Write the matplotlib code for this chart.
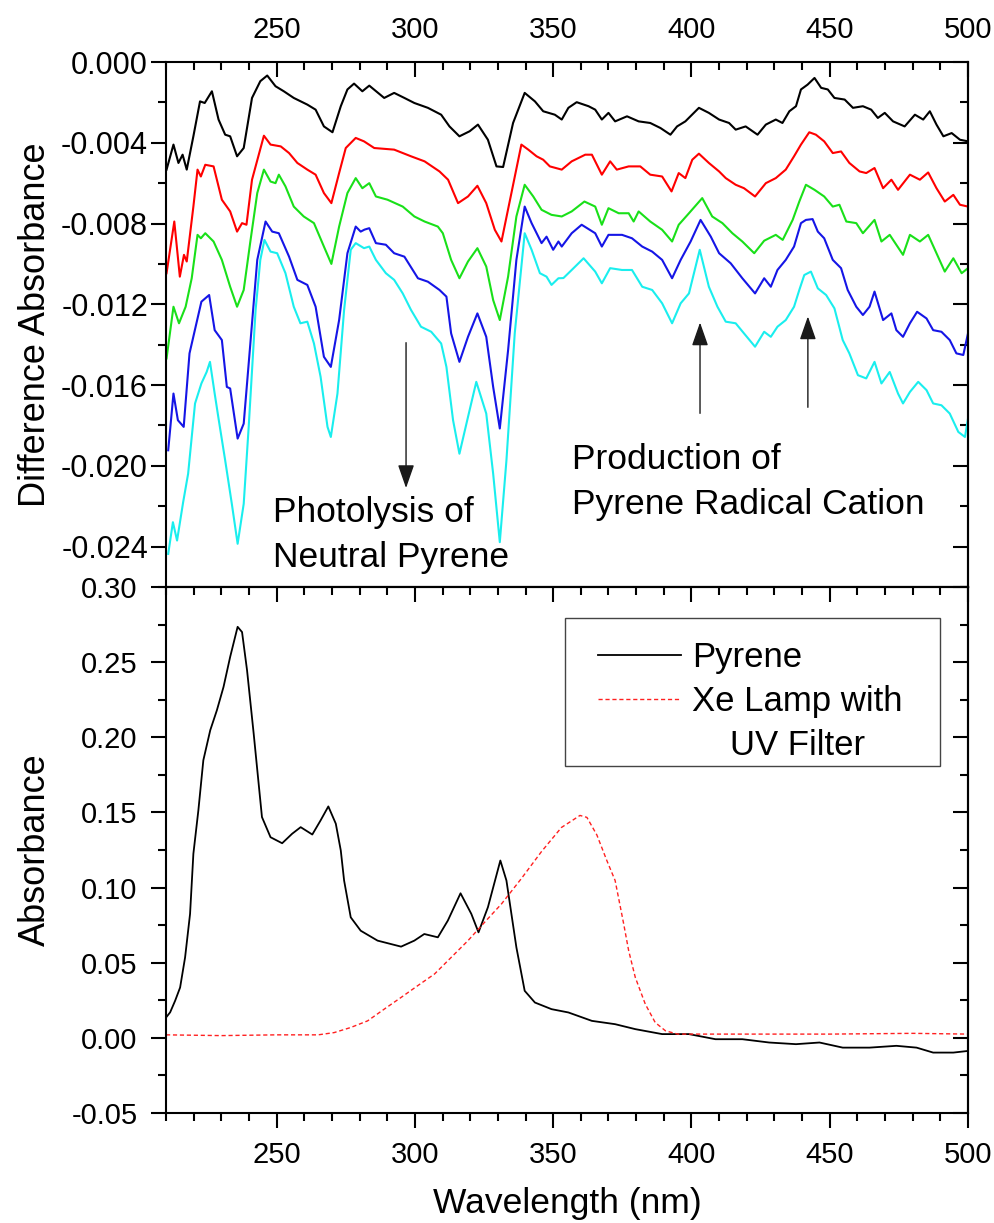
import numpy as np
import matplotlib
matplotlib.use("Agg")
import matplotlib.pyplot as plt
from matplotlib.ticker import MultipleLocator, FormatStrFormatter
from matplotlib.patches import Rectangle

plt.rcParams.update({
    "font.family": ["Liberation Sans", "DejaVu Sans"],
    "axes.unicode_minus": False,
    "axes.linewidth": 1.5,
})

# ---- top panel: difference spectra, values in units of 1e-3 absorbance ----
wl_black = [210.2, 212.7, 214.5, 216.0, 217.5, 219.9, 222.3, 224.0, 226.6, 229.0, 231.4,
            233.2, 235.7, 238.1, 241.1, 244.1, 246.6, 249.6, 252.6, 256.2, 261.1, 264.1,
            267.1, 270.2, 273.2, 275.6, 278.0, 281.0, 283.5, 288.9, 292.5, 296.2, 299.8,
            304.7, 309.5, 312.5, 316.1, 319.8, 322.8, 326.4, 329.5, 331.9, 335.5, 339.7,
            343.4, 346.4, 350.6, 353.1, 355.5, 358.5, 362.8, 365.2, 367.6, 370.0, 372.4,
            376.7, 380.9, 385.1, 388.8, 392.4, 394.8, 397.8, 402.7, 406.3, 410.0, 413.6,
            416.0, 419.6, 423.9, 426.9, 430.5, 432.9, 435.4, 437.8, 439.6, 442.0, 444.5,
            446.9, 449.3, 451.7, 455.4, 458.4, 462.0, 465.0, 467.4, 469.9, 472.9, 477.1,
            480.8, 483.8, 486.2, 488.6, 491.1, 494.1, 497.1, 500.0]
dA_black = [-5.33, -4.09, -5.00, -4.59, -5.33, -3.68, -1.95, -2.03, -1.45, -2.85, -3.60,
            -3.68, -4.67, -4.26, -1.78, -0.95, -0.67, -1.20, -1.45, -1.78, -2.11, -2.36,
            -3.19, -3.48, -2.19, -1.36, -1.07, -1.45, -1.17, -1.78, -1.53, -1.78, -2.03,
            -2.27, -2.61, -3.19, -3.68, -3.43, -3.10, -3.85, -5.17, -5.20, -3.02, -1.53,
            -1.95, -2.44, -2.61, -2.85, -2.27, -1.99, -2.19, -2.36, -2.85, -2.52, -2.94,
            -2.69, -2.94, -3.02, -3.27, -3.60, -3.19, -2.94, -2.27, -2.52, -2.85, -3.02,
            -3.35, -3.19, -3.60, -3.10, -2.85, -3.02, -2.44, -2.19, -1.36, -1.12, -0.79,
            -1.28, -1.36, -1.78, -1.86, -2.27, -2.19, -2.36, -2.77, -2.52, -2.94, -3.19,
            -2.61, -2.85, -2.44, -3.10, -3.68, -3.52, -3.85, -3.93]

wl_red = [210.2, 213.0, 215.0, 216.5, 217.5, 219.9, 221.4, 222.6, 224.2, 227.2, 230.2,
          233.2, 235.7, 237.5, 239.1, 241.1, 245.4, 247.8, 251.5, 254.5, 257.5, 261.1,
          264.1, 267.1, 269.8, 272.6, 275.0, 278.6, 281.6, 285.3, 292.5, 298.6, 303.5,
          308.9, 312.0, 315.6, 319.2, 322.6, 325.8, 328.9, 331.3, 334.9, 338.5, 341.0,
          344.0, 346.4, 348.8, 353.1, 356.7, 361.6, 364.0, 367.6, 370.6, 373.0, 377.3,
          381.5, 385.1, 389.4, 392.8, 395.4, 397.8, 400.3, 402.7, 406.3, 410.0, 412.4,
          416.0, 419.0, 423.0, 426.9, 430.5, 434.1, 437.1, 439.6, 442.6, 445.0, 448.0,
          451.1, 454.1, 457.1, 460.8, 463.2, 466.2, 469.3, 472.3, 474.7, 479.0, 482.6,
          485.6, 488.6, 491.6, 494.7, 497.1, 500.0]
dA_red = [-10.46, -7.90, -10.63, -9.55, -9.88, -7.16, -5.33, -5.67, -5.09, -5.17, -6.82,
          -7.40, -8.40, -7.98, -8.06, -5.83, -3.65, -4.09, -4.18, -4.51, -5.00, -5.33,
          -5.58, -6.49, -6.99, -5.50, -4.26, -3.76, -3.93, -4.26, -4.34, -4.67, -4.92,
          -5.42, -5.83, -6.99, -6.66, -6.13, -6.99, -8.31, -8.89, -6.49, -4.09, -4.34,
          -4.67, -4.84, -5.17, -5.33, -4.92, -4.59, -4.59, -5.58, -4.92, -5.33, -5.17,
          -5.17, -5.58, -5.67, -6.41, -5.50, -5.75, -4.84, -4.54, -5.00, -5.42, -5.75,
          -6.08, -6.25, -6.66, -6.00, -5.75, -5.33, -4.67, -4.09, -3.48, -3.60, -3.93,
          -4.51, -4.43, -5.00, -5.42, -5.50, -5.25, -6.25, -5.83, -6.33, -5.58, -5.83,
          -5.47, -6.25, -6.91, -6.58, -7.07, -7.16]

wl_green = [210.2, 212.7, 214.7, 217.1, 219.3, 221.4, 222.6, 224.2, 227.2, 230.2, 233.2,
            235.7, 238.1, 240.5, 243.0, 245.4, 247.8, 249.6, 250.8, 253.2, 256.2, 259.8,
            263.5, 267.1, 269.8, 272.6, 275.6, 278.6, 281.0, 283.5, 285.9, 290.1, 295.6,
            299.8, 303.5, 308.3, 310.1, 313.1, 316.1, 319.2, 322.6, 325.8, 328.3, 330.7,
            333.7, 336.7, 339.7, 342.8, 345.8, 349.4, 353.1, 356.7, 361.3, 365.2, 367.6,
            370.0, 373.7, 377.3, 379.1, 380.9, 385.1, 389.4, 393.0, 395.4, 399.1, 403.9,
            407.5, 411.2, 414.8, 418.4, 422.7, 426.3, 430.5, 433.0, 436.6, 439.0, 441.4,
            444.5, 448.0, 451.1, 453.5, 456.0, 459.6, 462.0, 466.2, 468.7, 471.7, 476.5,
            479.0, 482.6, 485.6, 488.6, 491.6, 494.7, 497.7, 500.0]
dA_green = [-14.68, -12.12, -12.94, -12.12, -10.71, -8.56, -8.73, -8.48, -8.89, -9.80, -11.13,
            -12.12, -11.29, -8.89, -6.49, -5.33, -5.92, -6.00, -5.58, -6.16, -7.16, -7.65,
            -7.98, -9.14, -10.00, -8.15, -6.49, -5.75, -6.25, -6.00, -6.66, -6.82, -7.16,
            -7.65, -7.90, -8.15, -8.48, -9.80, -10.71, -9.88, -9.22, -10.13, -11.79, -12.78,
            -10.63, -7.65, -6.08, -6.66, -7.32, -7.57, -7.65, -7.40, -6.91, -7.16, -8.06,
            -7.24, -7.49, -7.49, -7.90, -7.40, -7.90, -8.31, -8.89, -8.06, -7.49, -6.74,
            -7.65, -7.98, -8.48, -8.89, -9.47, -8.85, -8.56, -8.81, -7.82, -6.91, -6.08,
            -6.33, -6.66, -7.16, -7.07, -7.90, -7.98, -8.48, -7.82, -8.89, -8.56, -9.55,
            -8.56, -8.89, -8.56, -9.47, -10.38, -9.72, -10.46, -10.21]

wl_blue = [210.8, 212.7, 214.3, 216.4, 218.5, 221.0, 222.8, 225.6, 227.6, 230.2, 232.0,
           233.2, 235.9, 238.1, 240.5, 243.0, 246.0, 248.4, 250.8, 254.5, 257.5, 261.1,
           264.1, 267.1, 269.6, 272.6, 275.6, 278.6, 280.4, 281.8, 283.5, 285.9, 289.5,
           292.5, 296.2, 301.1, 304.7, 308.9, 311.4, 313.1, 316.1, 319.2, 322.6, 325.8,
           328.3, 330.7, 333.7, 336.7, 339.7, 342.2, 345.8, 347.6, 350.0, 351.9, 353.1,
           356.7, 360.3, 365.2, 367.6, 370.0, 374.9, 378.5, 382.2, 385.8, 389.4, 393.0,
           396.1, 399.7, 403.3, 407.0, 410.0, 414.2, 418.4, 423.0, 426.3, 428.7, 431.1,
           434.1, 437.1, 439.6, 441.4, 443.8, 445.7, 448.0, 451.1, 454.1, 456.5, 459.6,
           462.0, 464.4, 466.2, 469.3, 472.3, 474.1, 476.5, 479.0, 481.6, 485.0, 487.4,
           490.4, 493.4, 495.8, 498.3, 500.0]
dA_blue = [-19.23, -16.42, -17.74, -18.07, -14.43, -12.94, -11.87, -11.54, -13.28, -13.77, -16.09,
           -16.17, -18.65, -17.91, -13.94, -9.80, -7.90, -8.40, -8.48, -9.64, -10.79, -11.04,
           -12.12, -14.60, -15.10, -12.78, -9.47, -8.15, -8.40, -8.30, -8.23, -8.97, -9.05,
           -9.47, -9.64, -10.71, -10.88, -11.29, -11.62, -13.44, -14.85, -13.61, -12.45, -13.61,
           -16.09, -18.15, -14.27, -9.80, -7.16, -7.98, -8.97, -8.65, -9.30, -8.89, -9.14,
           -8.48, -8.06, -8.48, -9.14, -8.56, -8.56, -8.73, -9.14, -9.39, -9.80, -10.71,
           -9.80, -8.89, -7.82, -8.65, -9.47, -9.97, -10.71, -11.46, -10.71, -11.13, -10.30,
           -9.80, -9.14, -7.98, -7.82, -7.78, -8.40, -8.73, -9.80, -10.21, -11.29, -12.12,
           -12.53, -12.12, -11.37, -12.78, -12.45, -13.28, -13.61, -12.94, -12.37, -12.70, -13.28,
           -13.36, -13.77, -14.43, -14.51, -13.44]

wl_cyan = [210.8, 212.5, 214.0, 216.2, 218.0, 220.5, 222.8, 224.7, 225.9, 227.6, 229.0,
           231.4, 233.8, 235.9, 238.1, 239.9, 242.4, 244.1, 245.6, 247.8, 250.2, 253.2,
           256.2, 258.6, 261.1, 263.5, 265.9, 268.4, 269.6, 272.0, 274.4, 276.8, 278.6,
           281.6, 283.5, 285.9, 289.5, 292.5, 295.6, 298.6, 302.2, 305.9, 309.5, 311.4,
           313.8, 316.1, 319.2, 322.2, 325.8, 328.3, 330.7, 333.1, 336.1, 339.7, 342.2,
           345.2, 347.6, 349.4, 351.9, 353.7, 356.7, 361.0, 365.2, 367.6, 370.6, 374.9,
           378.5, 382.2, 385.8, 389.4, 393.0, 396.1, 399.1, 403.0, 406.3, 409.4, 412.4,
           416.0, 419.0, 423.0, 426.3, 428.7, 431.1, 434.1, 437.1, 439.0, 440.8, 443.2,
           445.7, 448.7, 451.7, 454.7, 457.1, 460.2, 463.2, 466.2, 468.7, 471.7, 474.7,
           476.5, 479.0, 482.0, 485.0, 487.4, 490.4, 493.4, 496.5, 498.9, 500.0]
dA_cyan = [-24.36, -22.79, -23.70, -21.80, -20.39, -16.91, -15.92, -15.35, -14.85, -16.42, -17.66,
           -19.73, -21.88, -23.86, -21.88, -18.07, -12.28, -9.80, -8.81, -9.39, -9.47, -10.46,
           -12.12, -12.94, -12.86, -13.94, -15.59, -18.07, -18.57, -16.42, -12.28, -9.30, -8.97,
           -9.22, -9.14, -9.80, -10.46, -10.79, -11.46, -12.28, -13.11, -13.36, -13.94, -15.10,
           -17.74, -19.40, -17.58, -15.84, -17.41, -20.39, -23.78, -19.73, -13.44, -8.48, -9.30,
           -10.46, -10.63, -11.04, -10.71, -10.70, -10.30, -9.72, -10.38, -10.96, -10.21, -10.30,
           -10.30, -11.13, -11.29, -11.95, -12.94, -11.95, -11.46, -9.30, -11.13, -12.12, -12.86,
           -12.94, -13.44, -14.10, -13.36, -13.61, -13.11, -12.78, -12.12, -11.29, -10.55, -10.38,
           -11.21, -11.54, -12.20, -13.77, -14.43, -15.51, -15.67, -14.85, -15.92, -15.35, -16.42,
           -16.91, -16.34, -15.84, -16.25, -16.91, -17.00, -17.41, -18.32, -18.57, -17.66]

# ---- bottom panel: absorbance spectra ----
wl_pyr = [210.0, 211.5, 213.3, 215.1, 216.9, 218.7, 219.9, 221.7, 223.5, 226.0, 228.4,
          230.8, 233.2, 235.9, 237.5, 239.3, 241.7, 244.7, 247.8, 252.0, 255.6, 258.7,
          262.9, 265.9, 268.7, 271.4, 273.2, 274.4, 276.8, 280.4, 286.5, 295.0, 299.8,
          303.4, 308.3, 311.9, 316.5, 320.4, 323.0, 326.4, 330.9, 333.1, 336.7, 339.7,
          343.4, 349.4, 355.5, 364.0, 372.4, 379.7, 389.4, 399.1, 408.7, 418.4, 428.1,
          437.8, 446.3, 454.7, 464.4, 474.1, 481.4, 487.4, 494.7, 500.0]
abs_pyr = [0.0135, 0.0170, 0.0247, 0.0335, 0.0535, 0.0825, 0.1225, 0.1513, 0.1847, 0.2047, 0.2180,
           0.2335, 0.2535, 0.2735, 0.2700, 0.2447, 0.2025, 0.1469, 0.1335, 0.1295, 0.1358, 0.1402,
           0.1353, 0.1447, 0.1540, 0.1425, 0.1247, 0.1047, 0.0802, 0.0713, 0.0647, 0.0607, 0.0647,
           0.0691, 0.0669, 0.0780, 0.0962, 0.0825, 0.0702, 0.0869, 0.1180, 0.1047, 0.0602, 0.0313,
           0.0235, 0.0191, 0.0169, 0.0113, 0.0091, 0.0058, 0.0025, 0.0025, -0.0009, -0.0009, -0.0031,
           -0.0042, -0.0031, -0.0065, -0.0065, -0.0053, -0.0065, -0.0098, -0.0098, -0.0087]

wl_xe = [210.0, 230.0, 250.0, 265.0, 270.8, 276.8, 282.9, 288.9, 295.0, 301.0, 307.1,
         313.1, 319.2, 325.2, 331.3, 338.5, 345.8, 353.0, 359.7, 362.2, 365.8, 369.4,
         372.4, 375.5, 377.3, 379.7, 383.3, 386.9, 390.6, 395.0, 420.0, 450.0, 480.0, 500.0]
abs_xe = [0.0020, 0.0015, 0.0020, 0.0020, 0.0035, 0.0069, 0.0113, 0.0191, 0.0269, 0.0347, 0.0425,
          0.0535, 0.0647, 0.0769, 0.0891, 0.1060, 0.1240, 0.1400, 0.1480, 0.1467, 0.1350, 0.1180,
          0.1047, 0.0758, 0.0580, 0.0402, 0.0225, 0.0102, 0.0047, 0.0025, 0.0025, 0.0025, 0.0030, 0.0025]

top_series = [(wl_black, dA_black, "black"), (wl_red, dA_red, "#ff0000"),
              (wl_green, dA_green, "#19e019"), (wl_blue, dA_blue, "#1515e6"),
              (wl_cyan, dA_cyan, "#1aeeee")]

fig = plt.figure(figsize=(9.95, 12.23), dpi=100)
x0, x1 = 166 / 995, 968 / 995
axT = fig.add_axes([x0, 1 - 587 / 1223, x1 - x0, 525 / 1223])
axB = fig.add_axes([x0, 1 - 1113 / 1223, x1 - x0, 526 / 1223])

for wl, dA, c in top_series:
    axT.plot(wl, np.array(dA) * 1e-3, color=c, lw=1.5)

axB.plot(wl_pyr, abs_pyr, color="black", lw=1.3, label="Pyrene")
axB.plot(wl_xe, abs_xe, color="#ff2020", lw=1.0, ls=(0, (3, 2)), label="Xe Lamp with")

TICK = dict(width=1.5)
MAJ, MIN = 11, 6

# --- top panel axes ---
axT.set_xlim(210, 500)
axT.set_ylim(-0.026, 0.0)
axT.xaxis.set_major_locator(MultipleLocator(50))
axT.xaxis.set_minor_locator(MultipleLocator(10))
axT.yaxis.set_major_locator(MultipleLocator(0.004))
axT.yaxis.set_minor_locator(MultipleLocator(0.002))
axT.yaxis.set_major_formatter(FormatStrFormatter("%.3f"))
axT.tick_params(axis="x", which="both", top=True, bottom=False, labeltop=True,
                labelbottom=False, direction="in", pad=13, labelsize=21, **TICK)
axT.tick_params(axis="y", which="both", direction="out", pad=2, labelsize=22, **TICK)
axT.tick_params(which="major", length=MAJ)
axT.tick_params(which="minor", length=MIN)
secT = axT.secondary_yaxis("right")
secT.yaxis.set_major_locator(MultipleLocator(0.004))
secT.yaxis.set_minor_locator(MultipleLocator(0.002))
secT.tick_params(which="both", direction="in", labelright=False, **TICK)
secT.tick_params(which="major", length=MAJ)
secT.tick_params(which="minor", length=MIN)
axT.set_ylabel("Difference Absorbance", fontsize=26)
axT.yaxis.set_label_coords(-0.1415, 0.5)

# --- bottom panel axes ---
axB.set_xlim(210, 500)
axB.set_ylim(-0.05, 0.30)
axB.xaxis.set_major_locator(MultipleLocator(50))
axB.xaxis.set_minor_locator(MultipleLocator(10))
axB.yaxis.set_major_locator(MultipleLocator(0.05))
axB.yaxis.set_minor_locator(MultipleLocator(0.025))
axB.yaxis.set_major_formatter(FormatStrFormatter("%.2f"))
axB.tick_params(axis="x", which="both", direction="out", pad=9.5, labelsize=21, **TICK)
axB.tick_params(axis="y", which="both", direction="out", pad=9.5, labelsize=21, **TICK)
axB.tick_params(which="major", length=MAJ)
axB.tick_params(which="minor", length=MIN)
secBx = axB.secondary_xaxis("top")
secBx.xaxis.set_major_locator(MultipleLocator(50))
secBx.xaxis.set_minor_locator(MultipleLocator(10))
secBx.tick_params(which="both", direction="in", labeltop=False, **TICK)
secBx.tick_params(which="major", length=MAJ)
secBx.tick_params(which="minor", length=MIN)
secBy = axB.secondary_yaxis("right")
secBy.yaxis.set_major_locator(MultipleLocator(0.05))
secBy.yaxis.set_minor_locator(MultipleLocator(0.025))
secBy.tick_params(which="both", direction="in", labelright=False, **TICK)
secBy.tick_params(which="major", length=MAJ)
secBy.tick_params(which="minor", length=MIN)
axB.set_ylabel("Absorbance", fontsize=26)
axB.yaxis.set_label_coords(-0.1415, 0.5)
axB.set_xlabel("Wavelength (nm)", fontsize=25.5)
axB.xaxis.set_label_coords(0.5, -0.140)

# --- annotations on the difference spectra ---
arrow = dict(arrowstyle="-|>,head_length=0.4,head_width=0.14", color="#1a1a1a",
             lw=1.0, mutation_scale=36, shrinkA=0, shrinkB=0)
axT.annotate("", xy=(296.8, -0.0211), xytext=(296.8, -0.0139), arrowprops=arrow)
axT.annotate("", xy=(403.1, -0.0129), xytext=(403.1, -0.0174), arrowprops=arrow)
axT.annotate("", xy=(442.1, -0.0126), xytext=(442.1, -0.0171), arrowprops=arrow)
axT.text(248.7, -0.02279, "Photolysis of", fontsize=25.5, va="baseline")
axT.text(248.7, -0.02502, "Neutral Pyrene", fontsize=25.5, va="baseline")
axT.text(356.7, -0.02014, "Production of", fontsize=25.5, va="baseline")
axT.text(356.7, -0.02237, "Pyrene Radical Cation", fontsize=25.5, va="baseline")

# --- legend ---
leg = axB.legend(loc="upper left", bbox_to_anchor=(0.5387, 0.8976), frameon=False,
                 fontsize=25, handlelength=2.4, handletextpad=0.32, borderpad=0,
                 borderaxespad=0, labelspacing=0.32)
axB.text(0.7874, 0.6996, "UV Filter", transform=axB.transAxes, fontsize=25,
         ha="center", va="center")
axB.add_patch(Rectangle((0.4975, 0.6597), 0.4676, 0.2814, transform=axB.transAxes,
                        fill=False, ec="#444444", lw=1.0))

fig.savefig("out.png", dpi=100)
